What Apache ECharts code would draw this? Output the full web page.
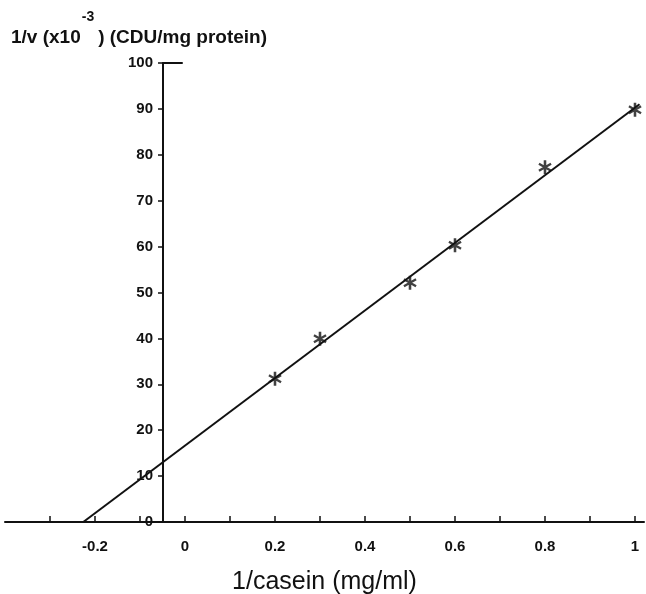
<!DOCTYPE html>
<html><head><meta charset="utf-8">
<script src="https://cdn.jsdelivr.net/npm/echarts@6/dist/echarts.min.js"></script>
<style>html,body{margin:0;padding:0;background:#fff}#c{width:646px;height:594px}</style>
</head><body><div id="c"></div>
<script>
// data
const caseinInv = [0.2, 0.3, 0.5, 0.6, 0.8, 1.0];
const vInv = [31.2, 39.9, 52.1, 60.3, 77.3, 89.8];
const fitX = [-0.226, 1.01];
const fitY = [0, 91.0];
const xTickLabels = {'-0.2':'-0.2','0':'0','0.2':'0.2','0.4':'0.4','0.6':'0.6','0.8':'0.8','1':'1'};
const yAxisPos = -0.05;

const star = 'path://M-1.1,-6L1.1,-6L1.1,6L-1.1,6Z M5.696,2.134L4.696,3.866L-5.696,-2.134L-4.696,-3.866Z M4.696,-3.866L5.696,-2.134L-4.696,3.866L-5.696,2.134Z';
const font = '"Liberation Sans", Arial, sans-serif';

const chart = echarts.init(document.getElementById('c'), null, {renderer:'canvas'});
chart.setOption({
  animation:false,
  backgroundColor:'#fff',
  title:{
    left:6, top:2,
    text:'{a|1/v (x10}{s|-3}{a|) (CDU/mg protein)}',
    textStyle:{rich:{
      a:{fontFamily:font,fontWeight:'bold',fontSize:19,color:'#111',verticalAlign:'bottom',lineHeight:40},
      s:{fontFamily:font,fontWeight:'bold',fontSize:14,color:'#111',padding:[0,4,20,1],lineHeight:14}
    }}
  },
  grid:{left:5,right:2,top:63,bottom:72,containLabel:false,outerBoundsMode:'none'},
  xAxis:{
    type:'value', min:-0.4, max:1.02, interval:0.1,
    axisLine:{onZero:true,lineStyle:{color:'#111',width:2}},
    axisTick:{inside:true,length:6,lineStyle:{color:'#111',width:1.5}},
    splitLine:{show:false},
    axisLabel:{
      showMaxLabel:false, showMinLabel:false,
      margin:17, color:'#111', fontFamily:font, fontWeight:'bold', fontSize:15,
      formatter:v=>{const k=String(Math.round(v*10)/10);return xTickLabels[k]!==undefined?xTickLabels[k]:'';}
    },
    name:'1/casein (mg/ml)', nameLocation:'middle', nameGap:48,
    nameTextStyle:{color:'#111',fontFamily:font,fontSize:25}
  },
  yAxis:{
    type:'value', min:0, max:100, interval:10,
    position:'left', offset:-158,
    axisLine:{show:true,onZero:false,lineStyle:{color:'#111',width:2}},
    axisTick:{show:true,length:5,lineStyle:{color:'#111',width:1.5}},
    splitLine:{show:false},
    axisLabel:{margin:10,color:'#111',fontFamily:font,fontWeight:'bold',fontSize:15}
  },
  series:[
    {
      type:'line', data:fitX.map((x,i)=>[x,fitY[i]]),
      showSymbol:false, lineStyle:{color:'#111',width:2}, z:2,
      markLine:{silent:true,symbol:'none',label:{show:false},
        lineStyle:{color:'#111',width:2,type:'solid'},
        data:[[{coord:[yAxisPos,100]},{coord:[-0.005,100]}]]}
    },
    {
      type:'scatter', data:caseinInv.map((x,i)=>[x,vInv[i]]),
      symbol:star, symbolSize:14, symbolKeepAspect:true,
      itemStyle:{color:'#111'}, z:3
    }
  ]
});
</script></body></html>
